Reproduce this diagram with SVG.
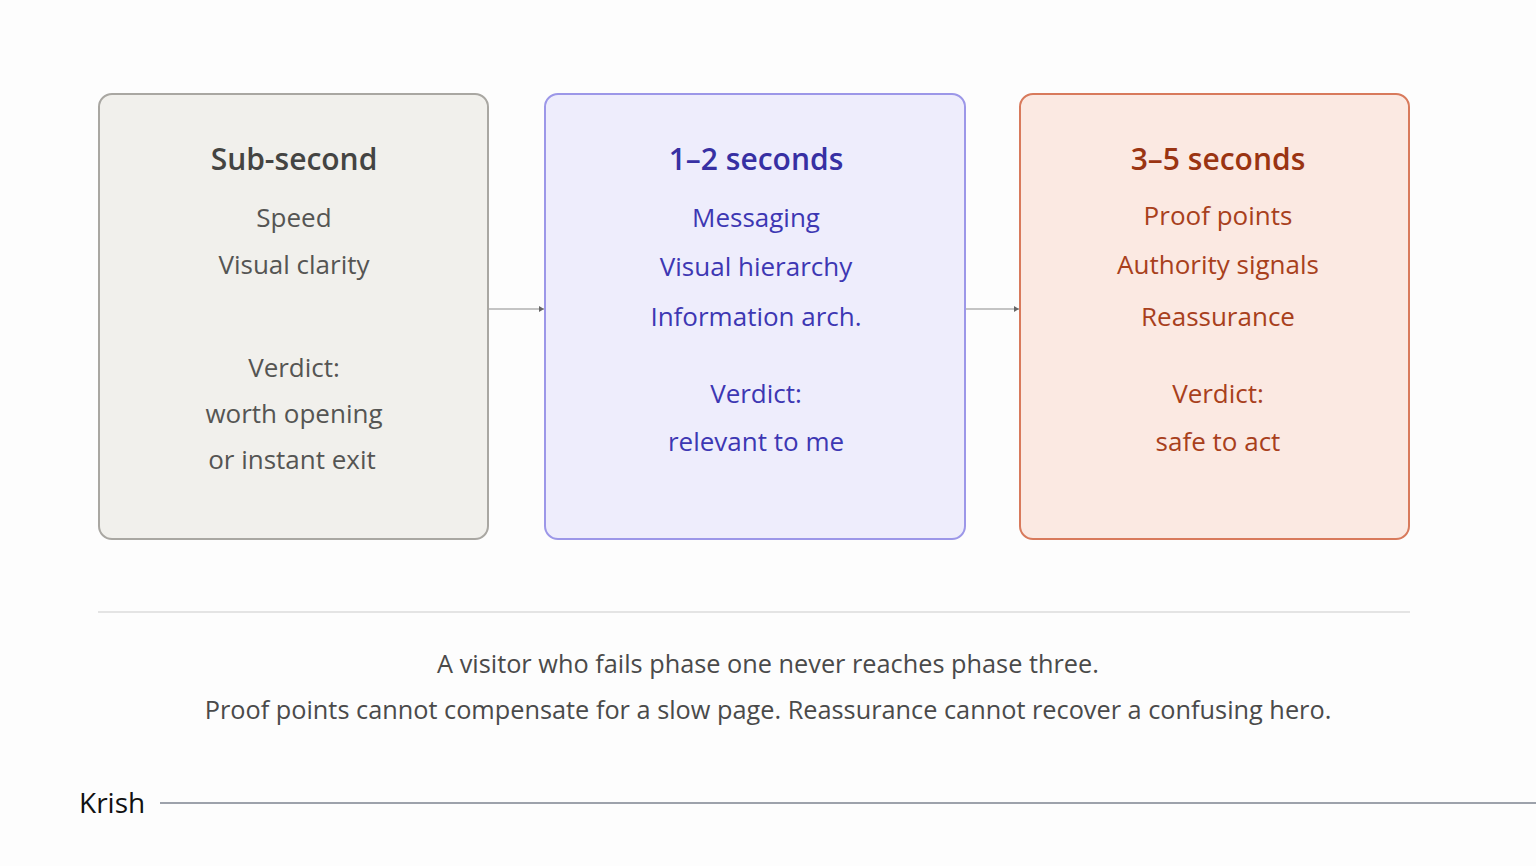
<svg xmlns="http://www.w3.org/2000/svg" width="1536" height="866" viewBox="0 0 1536 866">
<defs>
<style>
text{font-family:"Open Sans","Noto Sans","DejaVu Sans",sans-serif;text-anchor:middle}
.t{font-size:30px;font-weight:600}
.b{font-size:26px}
.g .box{fill:#f1f0ec;stroke:#a9a7a2}
.g .t{fill:#444442}.g .b{fill:#555553}
.p .box{fill:#eeedfc;stroke:#9c97e8}
.p .t{fill:#3730a3}.p .b{fill:#3d37b3}
.o .box{fill:#fbe9e2;stroke:#d87a5c}
.o .t{fill:#9a3412}.o .b{fill:#a8401c}
.box{stroke-width:2}
.conn{stroke:#c4c4c4;stroke-width:2;fill:none}
.cap{font-size:25.3px;fill:#4a4a4a}
</style>
<marker id="ah" markerWidth="6" markerHeight="6" refX="5" refY="3" orient="auto" markerUnits="userSpaceOnUse">
<path d="M0,0 L5,3 L0,6 Z" fill="#666"/>
</marker>
</defs>
<rect width="1536" height="866" fill="#fdfdfd"/>
<g id="connectors">
<line class="conn" x1="489" y1="309" x2="544" y2="309" marker-end="url(#ah)"/>
<line class="conn" x1="966" y1="309" x2="1019" y2="309" marker-end="url(#ah)"/>
</g>
<g id="node-sub-second" class="g">
<rect class="box" x="99" y="94" width="389" height="445" rx="13"/>
<text class="t" x="294" y="170">Sub-second</text>
<text class="b" x="294" y="227">Speed</text>
<text class="b" x="294" y="274">Visual clarity</text>
<text class="b" x="294" y="377">Verdict:</text>
<text class="b" x="294" y="423">worth opening</text>
<text class="b" x="292" y="469">or instant exit</text>
</g>
<g id="node-1-2-seconds" class="p">
<rect class="box" x="545" y="94" width="420" height="445" rx="13"/>
<text class="t" x="756" y="170">1–2 seconds</text>
<text class="b" x="756" y="227">Messaging</text>
<text class="b" x="756" y="276">Visual hierarchy</text>
<text class="b" x="756" y="326">Information arch.</text>
<text class="b" x="756" y="403">Verdict:</text>
<text class="b" x="756" y="451">relevant to me</text>
</g>
<g id="node-3-5-seconds" class="o">
<rect class="box" x="1020" y="94" width="389" height="445" rx="13"/>
<text class="t" x="1218" y="170">3–5 seconds</text>
<text class="b" x="1218" y="225">Proof points</text>
<text class="b" x="1218" y="274">Authority signals</text>
<text class="b" x="1218" y="326">Reassurance</text>
<text class="b" x="1218" y="403">Verdict:</text>
<text class="b" x="1218" y="451">safe to act</text>
</g>
<line x1="98" y1="612" x2="1410" y2="612" stroke="#e4e4e4" stroke-width="2"/>
<text class="cap" x="768" y="673">A visitor who fails phase one never reaches phase three.</text>
<text class="cap" x="768" y="719">Proof points cannot compensate for a slow page. Reassurance cannot recover a confusing hero.</text>
<text x="79" y="813" style="text-anchor:start;font-size:28px;fill:#111">Krish</text>
<line x1="160" y1="803" x2="1536" y2="803" stroke="#7d838f" stroke-width="1.5"/>
</svg>
